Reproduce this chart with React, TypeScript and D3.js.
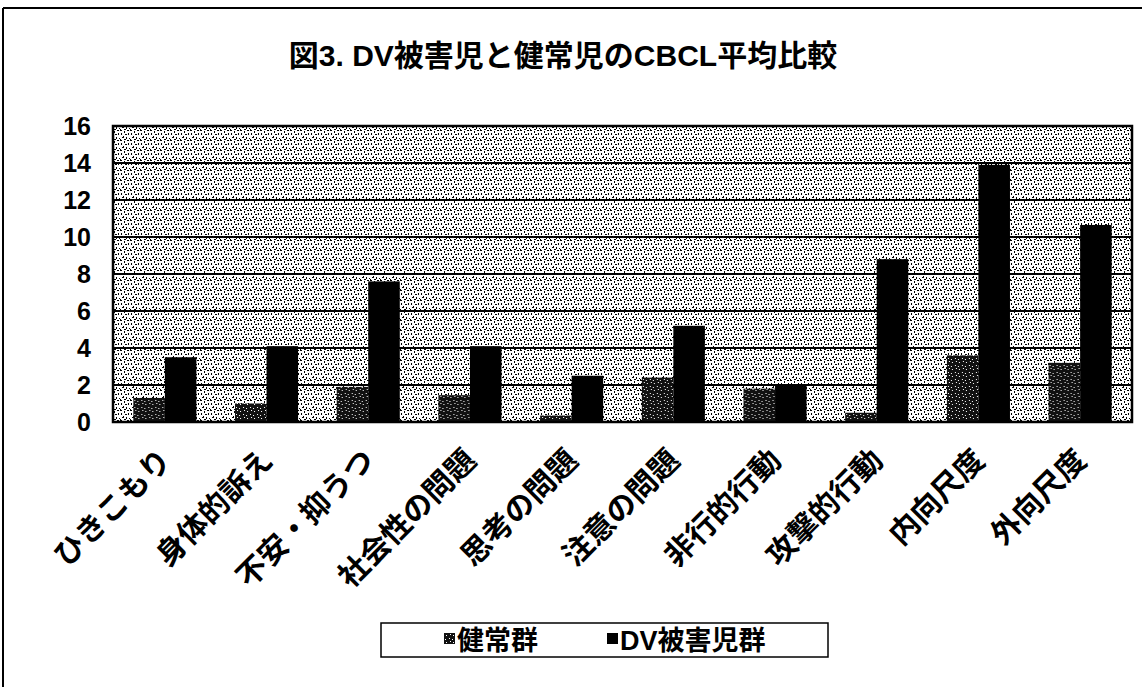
import { useEffect, useRef } from "react";
import * as d3 from "d3";

const categories = [
  "ひきこもり",
  "身体的訴え",
  "不安・抑うつ",
  "社会性の問題",
  "思考の問題",
  "注意の問題",
  "非行的行動",
  "攻撃的行動",
  "内向尺度",
  "外向尺度",
];
const seriesNames = ["健常群", "DV被害児群"];
const healthyValues = [1.3, 1.0, 1.9, 1.45, 0.35, 2.4, 1.8, 0.5, 3.6, 3.2];
const dvValues = [3.5, 4.1, 7.6, 4.1, 2.5, 5.2, 2.0, 8.8, 13.9, 10.65];
const yTicks = [0, 2, 4, 6, 8, 10, 12, 14, 16];

const W = 1142;
const H = 687;
// plot area
const plot = { left: 113, right: 1132, top: 126, bottom: 422 };

const jpFont = "'Liberation Sans', 'Noto Sans CJK JP', sans-serif";

export default function App() {
  const ref = useRef<SVGSVGElement>(null);

  useEffect(() => {
    const svg = d3.select(ref.current);
    svg.selectAll("*").remove();

    const defs = svg.append("defs");

    // speckled background of the plot area
    const bg = defs
      .append("pattern")
      .attr("id", "speckle")
      .attr("patternUnits", "userSpaceOnUse")
      .attr("width", 10)
      .attr("height", 10);
    bg.append("rect").attr("width", 10).attr("height", 10).attr("fill", "#fff");
    const bgDots = [
      [0, 0, 2, 1], [4, 1, 1, 2], [7, 0, 2, 1], [1, 3, 1, 2], [8, 3, 1, 2],
      [5, 4, 2, 1], [3, 6, 1, 1], [2, 7, 2, 1], [6, 7, 1, 2], [9, 8, 1, 1],
      [0, 9, 1, 1], [4, 9, 2, 1],
    ];
    bg.selectAll("rect.d")
      .data(bgDots)
      .join("rect")
      .attr("class", "d")
      .attr("x", (d) => d[0])
      .attr("y", (d) => d[1])
      .attr("width", (d) => d[2])
      .attr("height", (d) => d[3])
      .attr("fill", "#000");

    // dark bars with white flecks for the healthy group
    const hp = defs
      .append("pattern")
      .attr("id", "healthy")
      .attr("patternUnits", "userSpaceOnUse")
      .attr("width", 7)
      .attr("height", 7);
    hp.append("rect").attr("width", 7).attr("height", 7).attr("fill", "#111");
    const hpDots = [[1, 1, 1, 1], [4, 2, 1, 1], [2, 4, 1, 1], [5, 5, 1, 1]];
    hp.selectAll("rect.d")
      .data(hpDots)
      .join("rect")
      .attr("class", "d")
      .attr("x", (d) => d[0])
      .attr("y", (d) => d[1])
      .attr("width", (d) => d[2])
      .attr("height", (d) => d[3])
      .attr("fill", "#fff");

    // outer frame (only left and top edges are visible in the scan)
    svg.append("line").attr("x1", 3).attr("x2", 3).attr("y1", 8).attr("y2", H).attr("stroke", "#000").attr("stroke-width", 2);
    svg.append("line").attr("x1", 3).attr("x2", W).attr("y1", 8).attr("y2", 8).attr("stroke", "#000").attr("stroke-width", 2);

    // title
    svg
      .append("text")
      .attr("x", 563)
      .attr("y", 66)
      .attr("text-anchor", "middle")
      .attr("font-family", jpFont)
      .attr("font-weight", "bold")
      .attr("font-size", 30)
      .text("図3. DV被害児と健常児のCBCL平均比較");

    const x0 = d3
      .scaleBand()
      .domain(categories)
      .range([plot.left, plot.right])
      .paddingInner(0.38)
      .paddingOuter(0.2);
    const x1 = d3.scaleBand().domain(seriesNames).range([0, x0.bandwidth()]);
    const y = d3.scaleLinear().domain([0, 16]).range([plot.bottom, plot.top]);

    svg
      .append("rect")
      .attr("x", plot.left)
      .attr("y", plot.top)
      .attr("width", plot.right - plot.left)
      .attr("height", plot.bottom - plot.top)
      .attr("fill", "url(#speckle)");

    // gridlines
    svg
      .append("g")
      .selectAll("line")
      .data(yTicks)
      .join("line")
      .attr("x1", plot.left)
      .attr("x2", plot.right)
      .attr("y1", (d) => y(d))
      .attr("y2", (d) => y(d))
      .attr("stroke", "#000")
      .attr("stroke-width", 2);

    const rows = categories.map((c, i) => ({ c, values: [healthyValues[i], dvValues[i]] }));
    const groups = svg
      .append("g")
      .selectAll("g")
      .data(rows)
      .join("g")
      .attr("transform", (d) => `translate(${x0(d.c)},0)`);
    groups
      .selectAll("rect")
      .data((d) => d.values.map((v, j) => ({ s: seriesNames[j], v, j })))
      .join("rect")
      .attr("x", (d) => x1(d.s)!)
      .attr("y", (d) => y(d.v))
      .attr("width", x1.bandwidth())
      .attr("height", (d) => y(0) - y(d.v))
      .attr("fill", (d) => (d.j === 0 ? "url(#healthy)" : "#000"));

    // plot frame
    svg
      .append("rect")
      .attr("x", plot.left)
      .attr("y", plot.top)
      .attr("width", plot.right - plot.left)
      .attr("height", plot.bottom - plot.top)
      .attr("fill", "none")
      .attr("stroke", "#000")
      .attr("stroke-width", 2.5);

    // y axis labels
    const yAxis = svg
      .append("g")
      .attr("transform", `translate(${plot.left},0)`)
      .call(d3.axisLeft(y).tickValues(yTicks).tickSize(0).tickPadding(22));
    yAxis.select(".domain").remove();
    yAxis
      .selectAll("text")
      .attr("font-family", "'Liberation Sans', Arial, sans-serif")
      .attr("font-weight", "bold")
      .attr("font-size", 25)
      .attr("fill", "#000");

    // x axis labels, rotated
    svg
      .append("g")
      .selectAll("text")
      .data(categories)
      .join("text")
      .attr("transform", (d) => `translate(${x0(d)! + x0.bandwidth() / 2 + 8},${462}) rotate(-45)`)
      .attr("text-anchor", "end")
      .attr("font-family", jpFont)
      .attr("font-weight", "bold")
      .attr("font-size", 30)
      .text((d) => d);

    // legend
    const lg = svg.append("g");
    lg.append("rect")
      .attr("x", 381)
      .attr("y", 623)
      .attr("width", 447)
      .attr("height", 34)
      .attr("fill", "#fff")
      .attr("stroke", "#000")
      .attr("stroke-width", 1.5);
    const legendItems = [
      { name: seriesNames[0], x: 444, fill: "url(#healthy)" },
      { name: seriesNames[1], x: 607, fill: "#000" },
    ];
    legendItems.forEach((it) => {
      lg.append("rect").attr("x", it.x).attr("y", 633).attr("width", 11).attr("height", 11).attr("fill", it.fill);
      lg.append("text")
        .attr("x", it.x + 13)
        .attr("y", 650)
        .attr("font-family", jpFont)
        .attr("font-weight", "bold")
        .attr("font-size", 27)
        .text(it.name);
    });
  }, []);

  return (
    <svg
      ref={ref}
      width={W}
      height={H}
      style={{ position: "absolute", left: 0, top: 0, background: "#fff" }}
    />
  );
}
